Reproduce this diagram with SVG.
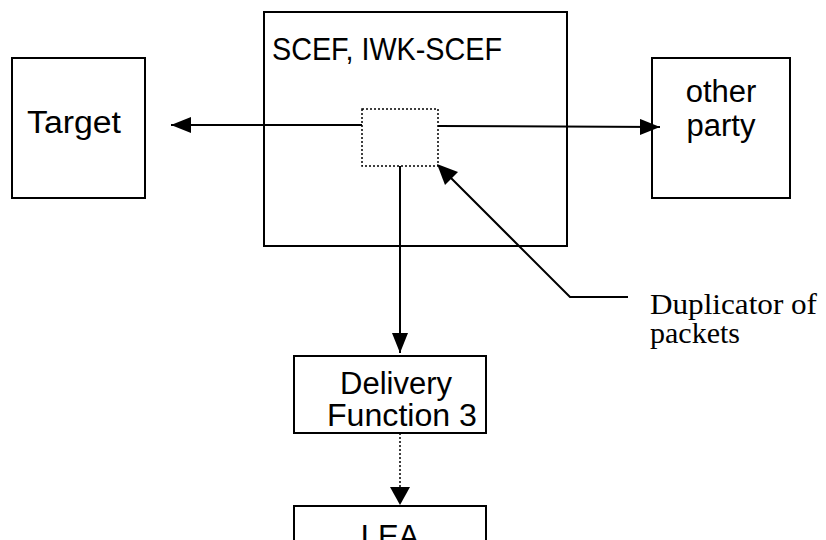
<svg xmlns="http://www.w3.org/2000/svg" width="826" height="540" viewBox="0 0 826 540">
<style>
.box{fill:#fff;stroke:#000;stroke-width:2}
.dot{fill:#fff;stroke:#000;stroke-width:1.5;stroke-dasharray:2,2}
.ln{fill:none;stroke:#000;stroke-width:2}
.dl{fill:none;stroke:#000;stroke-width:1.5;stroke-dasharray:2,2}
.t{font-family:"Liberation Sans",Arial,sans-serif;font-size:31px;fill:#000}
.s{font-family:"Liberation Serif","Times New Roman",serif;font-size:30px;fill:#000}
</style>
<defs>
<marker id="ah" viewBox="0 0 20 16" refX="20" refY="8" markerWidth="20" markerHeight="16" markerUnits="userSpaceOnUse" orient="auto">
<path d="M0,0 L20,8 L0,16 Z" fill="#000"/>
</marker>
</defs>
<g id="scef">
<rect class="box" x="264" y="12" width="303" height="234"/>
<text class="t" x="272" y="60" textLength="230" lengthAdjust="spacingAndGlyphs">SCEF, IWK-SCEF</text>
</g>
<g id="duplicator">
<rect class="dot" x="362" y="109" width="76" height="57"/>
</g>
<g id="target">
<rect class="box" x="12" y="58" width="133" height="140"/>
<text class="t" x="27" y="133" textLength="94" lengthAdjust="spacingAndGlyphs">Target</text>
</g>
<g id="other">
<rect class="box" x="652" y="58" width="138" height="140"/>
<text class="t" x="721" y="102" text-anchor="middle">other</text>
<text class="t" x="721" y="136" text-anchor="middle">party</text>
</g>
<g id="df3">
<rect class="box" x="294" y="356" width="192" height="77"/>
<text class="t" x="340" y="394">Delivery</text>
<text class="t" x="327" y="426" textLength="150" lengthAdjust="spacingAndGlyphs">Function 3</text>
</g>
<g id="lea">
<rect class="box" x="294" y="506" width="192" height="50"/>
<text class="t" x="390" y="547" text-anchor="middle">LEA</text>
</g>
<g id="dup-label">
<text class="s" x="650" y="314" textLength="167" lengthAdjust="spacingAndGlyphs">Duplicator of</text>
<text class="s" x="650" y="343">packets</text>
</g>
<g id="connectors">
<line class="ln" x1="362" y1="125" x2="171" y2="125" marker-end="url(#ah)"/>
<line class="ln" x1="438" y1="126" x2="660" y2="127" marker-end="url(#ah)"/>
<line class="ln" x1="400" y1="166" x2="400" y2="353" marker-end="url(#ah)"/>
<line class="dl" x1="400" y1="433" x2="400" y2="487"/>
<path d="M390,487 L410,487 L400,505 Z" fill="#000"/>
<polyline class="ln" points="628,297 570,297 440,167" />
<path d="M437,164 L458,172 L445,185 Z" fill="#000"/>
</g>
</svg>
